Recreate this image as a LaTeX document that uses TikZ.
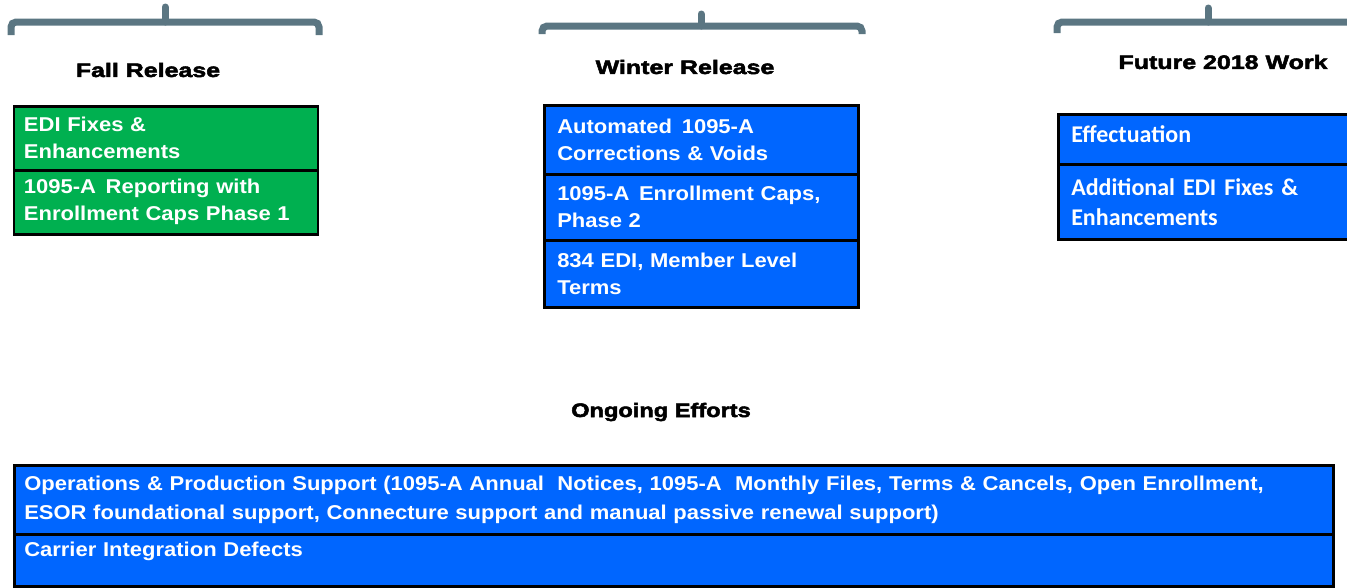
\documentclass[tikz,border=0pt]{standalone}
\usepackage{fontspec}
\setmainfont{Liberation Sans}
\newfontfamily\boxfont{Liberation Sans}[FakeStretch=1.1]
\newfontfamily\headfont{Liberation Sans}[FakeStretch=1.28,FakeBold=2.6]
\newfontfamily\headfontb{Liberation Sans}[FakeStretch=1.21,FakeBold=2.6]
\newfontfamily\calfont{Carlito}
\newcommand{\wsp}{\ \hspace{3pt}}
\definecolor{cblue}{HTML}{0066FF}
\definecolor{cgreen}{HTML}{00B050}
\definecolor{cbrk}{HTML}{5B7682}
\tikzset{
  brk/.style={draw=cbrk, line width=7pt, rounded corners=5pt},
  brktick/.style={draw=cbrk, line width=7pt, line cap=round},
  head/.style={font=\headfont\bfseries\fontsize{19.5}{24}\selectfont, text=black, inner sep=0pt},
  cell/.style={draw=black, line width=2.5pt, anchor=north west, inner ysep=0pt, align=left, text=white},
  armcell/.style={cell, inner xsep=10pt, font=\boxfont\bfseries\fontsize{20}{27}\selectfont},
  calcell/.style={cell, inner xsep=13pt, font=\calfont\bfseries\fontsize{24}{30}\selectfont},
  green/.style={fill=cgreen},
  blue/.style={fill=cblue}
}
\begin{document}
\begin{tikzpicture}[x=1pt,y=-1pt]
\useasboundingbox (0,0) rectangle (1347,587);
\clip (0,0) rectangle (1347,587);
% brackets
\draw[brk] (11,35) -- (11,22) -- (319,22) -- (319,35);
\draw[brktick] (165,22) -- (165,7);
\draw[brk] (542,34) -- (542,26) -- (862,26) -- (862,34);
\draw[brktick] (701,26) -- (701,14);
\draw[brk] (1057,33) -- (1057,22) -- (1365,22);
\draw[brktick] (1208,22) -- (1208,8);
% headings
\node[head] (hfall) at (148,70) {Fall Release};
\node[head] (hwinter) at (685,67) {Winter Release};
\node[head] (hfuture) at (1223,62) {Future 2018 Work};
\node[head, font=\headfontb\bfseries\fontsize{19.5}{24}\selectfont] (hongoing) at (661,412) {Ongoing Efforts};
% fall
\node[armcell, green, minimum width=304pt, minimum height=64pt, text width=284pt] (f1) at (12.7,105) {EDI Fixes \&\\Enhancements};
\node[armcell, green, minimum width=304pt, minimum height=64pt, text width=284pt] (f2) at (12.7,169) {1095-A\wsp Reporting with\\Enrollment Caps Phase 1};
% winter
\node[armcell, blue, inner xsep=13pt, minimum width=314pt, minimum height=69pt, text width=288pt] (w1) at (543,104) {Automated\wsp 1095-A\\Corrections \& Voids};
\node[armcell, blue, inner xsep=13pt, minimum width=314pt, minimum height=66pt, text width=288pt] (w2) at (543,173) {1095-A\wsp Enrollment Caps,\\Phase 2};
\node[armcell, blue, inner xsep=13pt, minimum width=314pt, minimum height=67pt, text width=288pt] (w3) at (543,239) {834 EDI, Member Level\\Terms};
% future
\node[calcell, blue, minimum width=310pt, minimum height=50pt, text width=284pt] (u1) at (1057,113) {\raisebox{5pt}[\height][\depth]{Effectuation}};
\node[calcell, blue, minimum width=310pt, minimum height=75pt, text width=284pt] (u2) at (1057,163) {Additional EDI Fixes \&\\Enhancements};
% ongoing
\node[armcell, blue, minimum width=1319pt, minimum height=69pt, text width=1299pt, font=\boxfont\bfseries\fontsize{20}{29}\selectfont] (o1) at (13,464) {Operations \& Production Support (1095-A Annual\ \ Notices, 1095-A\ \ Monthly Files, Terms \& Cancels, Open Enrollment,\\ESOR foundational support, Connecture support and manual passive renewal support)};
\node[armcell, blue, minimum width=1319pt, minimum height=52pt, text width=1299pt] (o2) at (13,533) {\raisebox{9pt}[\height][\depth]{Carrier Integration Defects}};
\end{tikzpicture}
\end{document}
